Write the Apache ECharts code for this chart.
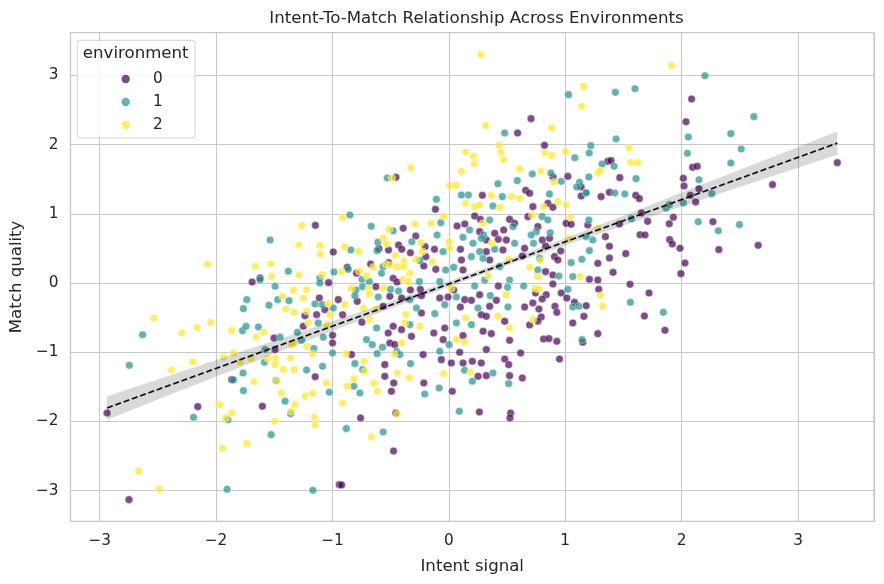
<!DOCTYPE html>
<html>
<head>
<meta charset="utf-8">
<script src="https://cdn.jsdelivr.net/npm/echarts@6.0.0/dist/echarts.min.js"></script>
<style>
html,body{margin:0;padding:0;background:#fff;}
#chart{width:884px;height:584px;}
</style>
</head>
<body>
<div id="chart"></div>
<script>
// ---------- data ----------
const categories = ['0', '1', '2'];
const colors = ['#440154', '#21918c', '#fde725'];

const env0 = [
[-1.147,0.833],[-0.993,0.448],[-1.622,0.072],
[-1.690,0.014],[-1.033,0.005],[-1.113,-0.217],[-0.950,-0.241],[-1.236,-0.472],[-1.136,-0.458],[-1.065,-0.385],[-1.502,-0.795],[-1.25,-0.626],[-0.999,-0.756],[-0.999,-0.867],[-1.493,-0.963],[-1.865,-1.397],[-1.148,-1.354],[-2.937,-1.879],[-2.157,-1.787],[-1.602,-1.782],[-2.748,-3.131],[-0.941,-2.914],
[0.706,2.375],[0.591,2.168],[0.822,1.989],[-0.455,1.527],[0.895,1.532],[1.023,1.541],[1.366,1.758],[0.660,1.339],[1.137,1.387],
[2.086,2.659],[2.038,2.331],[1.394,1.768],[2.094,1.671],[2.134,1.686],[3.338,1.739],[1.469,1.522],[2.015,1.513],[2.021,1.402],[2.149,1.363],[2.781,1.421],[1.606,1.267],[1.637,1.219],[1.380,1.310],[2.075,1.267],[2.121,1.171],[1.655,1.012],[1.466,0.853],[1.708,0.891],[1.929,0.949],[1.894,0.857],[2.269,0.886],[1.643,0.698],[1.686,0.694],[1.897,0.626],[1.920,0.564],[1.986,0.501],[2.320,0.482],[2.658,0.544],[1.380,0.530],[1.380,0.361],[1.520,0.424],[2.029,0.289],[1.994,0.135],[1.411,0.154],
[1.557,-0.019],[1.720,-0.145],[1.680,-0.477],[1.857,-0.684],
[-0.758,-1.951],[-0.455,-1.879],[-0.475,-2.428],[-0.921,-2.919],[0.262,-1.864],[0.531,-1.879],[0.525,-1.951],
[-0.392,0.790],[-0.284,0.679],[-0.601,0.496],[-0.518,0.477],[-0.432,0.549],[-0.404,0.487],[-0.330,0.438],[-0.204,0.525],[-0.198,0.381],[-0.215,0.246],[-0.672,0.275],[-0.873,0.226],[-0.518,0.294],[-0.793,0.140],[-0.478,0.067],[-0.444,0.014],[-0.626,-0.053],[-0.330,-0.101],[-0.245,-0.092],
[0.288,1.267],[-0.115,1.065],[0.222,0.968],[0.271,0.920],[0.522,0.920],[0.565,0.862],[0.071,0.824],[0.137,0.853],[0.265,0.742],[0.394,0.718],[0.471,0.766],[0.322,0.621],[0.425,0.631],[0.494,0.621],[-0.124,0.487],[0.100,0.487],[0.322,0.453],[0.465,0.477],[0.108,0.332],[0.351,0.332],[-0.112,0.197],[0.122,0.188],[0.042,-0.101],[0.425,-0.043],
[0.694,1.296],[1.137,1.257],[1.308,1.248],[0.722,1.103],[0.851,1.151],[0.894,1.093],[0.680,0.959],[1.008,0.862],[1.051,0.848],[1.194,0.838],[0.765,0.814],[0.803,0.621],[0.866,0.645],[1.345,0.670],[0.651,0.501],[0.831,0.535],[0.962,0.462],[0.631,0.390],[0.908,0.381],[0.937,0.332],[1.280,0.284],[0.831,0.164],[0.894,0.116],[1.208,0.053],[1.280,0.043],[0.894,-0.014],[1.288,-0.092],
[-0.787,-0.265],[-0.913,-0.458],[-0.507,-0.193],[-0.406,-0.217],[-0.235,-0.183],[-0.564,-0.337],[-0.747,-0.568],[-0.478,-0.626],[-0.235,-0.433],[-0.406,-0.674],[-0.321,-0.771],[-0.521,-0.723],[-0.507,-0.867],[-0.464,-0.891],[-0.836,-1.035],[-0.221,-1.035],[-0.550,-1.180],[-0.550,-1.349],[-0.473,-1.445],[-0.215,-1.445],[-0.493,-1.565],
[-0.078,-0.217],[-0.007,-0.202],[0.137,-0.241],[0.194,-0.251],[0.265,-0.169],[0.408,-0.251],[0.099,-0.347],[0.351,-0.337],[0.279,-0.458],[0.322,-0.482],[0.480,-0.554],[-0.035,-0.650],[0.294,-0.698],[0.365,-0.732],[0.122,-0.761],[-0.129,-0.723],[-0.049,-0.819],[0.522,-0.828],[0.093,-1.002],[0.322,-0.963],[-0.064,-1.108],[0.022,-1.156],[0.122,-1.156],[0.202,-1.132],[0.279,-1.156],[0.480,-1.098],[0.514,-1.180],[0.251,-1.349],[0.322,-1.339],[0.522,-1.339],[0.030,-1.565],
[0.745,-0.145],[0.837,-0.169],[0.966,-0.145],[0.802,-0.231],[0.722,-0.289],[0.651,-0.347],[0.774,-0.376],[0.912,-0.337],[0.928,-0.424],[1.014,-0.217],[1.080,-0.279],[1.180,-0.328],[1.160,-0.482],[1.065,-0.578],[0.794,-0.491],[0.765,-0.554],[0.694,-0.607],[1.280,-0.732],[0.814,-0.809],[0.860,-0.804],[0.928,-0.843],[1.151,-0.857],[0.617,-1.012],[0.951,-1.098],[0.631,-1.373]
];

const env1 = [
[-1.536,0.621],[-1.379,0.169],[-0.987,0.159],[-1.108,0.072],
[-1.622,0.048],[-1.493,-0.048],[-1.108,0.000],[-1.736,-0.241],[-1.765,-0.371],[-1.545,-0.323],[-1.470,-0.241],[-1.373,-0.255],[-1.150,-0.303],[-1.088,-0.313],[-0.993,-0.361],[-2.631,-0.747],[-1.773,-0.689],[-1.742,-0.626],[-1.636,-0.636],[-1.450,-0.780],[-1.301,-0.713],[-1.265,-0.829],[-1.122,-0.578],[-1.079,-0.785],[-1.160,-0.949],[-0.999,-1.012],[-1.579,-0.963],[-1.585,-1.146],[-2.745,-1.190],[-1.222,-1.257],[-1.085,-1.204],[-1.768,-1.301],[-1.485,-1.411],[-1.765,-1.556],[-1.027,-1.580],[-1.407,-1.710],[-2.193,-1.941],[-1.899,-1.975],[-1.359,-1.888],[-1.527,-2.192],[-1.905,-2.982],[-1.168,-2.996],[-1.850,-1.400],
[1.028,2.722],[0.480,2.168],[1.220,1.985],[1.206,1.879],[1.083,1.811],[-0.529,1.517],[0.717,1.575],[0.877,1.590],[0.966,1.469],[1.123,1.455],[1.203,1.532],[1.317,1.720],[0.422,1.435],[0.588,1.479],[1.180,1.301],[1.099,1.387],
[2.200,2.996],[1.431,2.755],[1.600,2.808],[2.621,2.404],[2.423,2.158],[2.058,2.110],[1.437,2.081],[2.512,1.936],[2.050,1.874],[1.420,1.686],[2.423,1.734],[1.609,1.508],[2.149,1.493],[1.426,1.301],[1.512,1.286],[2.260,1.291],[2.015,1.156],[1.866,1.084],[1.894,1.132],[1.569,0.930],[2.143,0.886],[2.497,0.843],[2.315,0.756],
[1.560,-0.279],[1.843,-0.424],
[-0.881,-2.105],[-0.564,-2.153],[0.090,-1.855],
[-0.850,0.983],[-0.667,0.819],[-0.478,0.756],[-0.318,0.597],[-0.610,0.588],[-0.616,0.467],[-0.842,0.477],[-0.249,0.323],[-0.864,0.197],[-0.564,0.236],[-0.578,0.140],[-0.747,0.053],[-0.253,0.019],[-0.684,0.019],[-0.741,-0.053],[-0.798,-0.101],[-0.501,-0.092],[-0.432,-0.116],
[-0.107,1.209],[0.108,1.272],[0.168,1.272],[0.460,1.248],[-0.069,0.872],[0.379,1.113],[0.351,0.910],[0.551,0.814],[0.179,0.766],[0.299,0.694],[0.279,0.645],[-0.101,0.694],[0.122,0.660],[0.565,0.573],[-0.049,0.453],[0.208,0.573],[0.265,0.453],[0.394,0.487],[0.194,0.381],[0.294,0.356],[0.042,0.226],[-0.027,0.188],[0.437,0.236],[0.308,0.043],[0.522,0.043],[-0.078,0.019],[0.222,-0.043],[0.505,-0.063],
[0.865,1.286],[1.180,1.305],[0.803,0.959],[0.851,0.910],[1.203,0.910],[0.751,0.742],[0.871,0.727],[0.708,0.694],[0.728,0.573],[1.180,0.670],[1.237,0.621],[1.208,0.467],[1.143,0.342],[1.051,0.294],[0.780,0.356],[0.765,0.188],[0.945,0.101],[1.065,0.092],[0.643,-0.043],[1.023,-0.092],
[-0.807,-0.183],[-0.607,-0.202],[-0.335,-0.241],[-0.621,-0.650],[-0.335,-0.602],[-0.278,-0.361],[-0.707,-0.819],[-0.658,-0.891],[-0.570,-0.930],[-0.616,-1.021],[-0.807,-1.166],[-0.449,-0.987],[-0.421,-1.035],[-0.329,-1.166],[-0.741,-1.252],[-0.816,-1.493],[-0.764,-1.590],[-0.207,-1.604],
[-0.035,-0.313],[0.065,-0.202],[0.356,-0.183],[0.251,-0.361],[0.508,-0.347],[0.065,-0.578],[-0.121,-0.443],[0.194,-0.602],[0.002,-0.891],[-0.078,-0.987],[0.136,-1.262],[0.379,-1.301],[0.202,-1.421],[0.514,-1.455],[-0.083,-1.517],
[1.065,-0.347],[1.117,-0.337],[1.145,-0.819]
];

const env2 = [
[-1.264,0.829],[-1.288,0.549],[-1.108,0.540],[-1.102,0.419],[-2.073,0.270],[-1.664,0.241],[-1.530,0.279],[-1.288,0.116],[-1.522,0.096],[-1.087,0.120],
[-1.430,-0.193],[-1.336,-0.106],[-1.222,-0.096],[-1.250,-0.217],[-1.037,-0.299],[-1.401,-0.376],[-1.329,-0.424],[-1.222,-0.409],[-1.022,-0.458],[-2.533,-0.506],[-2.296,-0.723],[-2.162,-0.645],[-2.045,-0.568],[-1.865,-0.689],[-1.593,-0.708],[-1.654,-0.780],[-1.336,-0.867],[-1.207,-0.578],[-1.050,-0.602],[-1.222,-0.915],[-1.350,-0.891],[-1.170,-1.026],[-1.556,-1.093],[-1.487,-1.084],[-1.493,-1.180],[-1.359,-1.084],[-1.936,-1.069],[-1.850,-1.012],[-1.793,-1.142],[-1.699,-1.093],[-2.199,-1.142],[-2.385,-1.257],[-1.422,-1.252],[-1.328,-1.252],[-1.674,-1.426],[-1.050,-1.445],[-1.441,-1.590],[-1.236,-1.638],[-1.170,-1.594],[-1.322,-1.758],[-1.973,-1.758],[-1.917,-1.951],[-1.865,-1.879],[-1.356,-1.855],[-1.155,-1.941],[-1.150,-2.052],[-1.496,-1.999],[-1.736,-2.322],[-1.945,-2.389],[-2.665,-2.722],[-2.491,-2.977],[-1.480,-1.420],
[0.276,3.300],[1.157,2.842],[1.142,2.553],[0.316,2.274],[0.885,2.240],[0.431,1.989],[0.145,1.893],[0.211,1.830],[0.448,1.888],[0.471,1.782],[0.220,1.724],[0.825,1.879],[0.885,1.840],[1.002,1.898],[-0.327,1.662],[-0.489,1.517],[0.108,1.614],[0.608,1.652],[0.789,1.614],[1.280,1.590],[1.300,1.623],[0.008,1.407],[0.065,1.411],[0.903,1.460],
[1.912,3.141],[1.546,1.951],[1.563,1.739],[1.623,1.739],
[-0.913,-1.734],[-0.444,-1.893],[-0.664,-2.225],
[-0.913,0.944],[-0.564,0.645],[-0.514,0.776],[-0.289,0.848],[-0.241,0.583],[-0.535,0.564],[-0.227,0.453],[-0.896,0.525],[-0.775,0.453],[-0.461,0.400],[-0.386,0.323],[-0.284,0.342],[-0.649,0.226],[-0.922,0.164],[-0.541,0.275],[-0.444,0.236],[-0.389,0.236],[-0.336,0.140],[-0.770,0.169],[-0.707,0.101],[-0.392,0.053],[-0.349,0.019],[-0.836,-0.077],[-0.690,-0.077],[-0.564,-0.077],[-0.507,0.255],
[0.365,1.267],[0.537,1.248],[-0.044,0.959],[-0.152,0.862],[0.145,1.151],[0.222,1.103],[0.265,1.127],[0.437,1.093],[0.294,0.862],[0.369,0.573],[0.002,0.597],[0.008,0.501],[-0.141,0.308],[0.514,0.342],[0.337,0.101],[0.022,-0.077],
[0.608,1.224],[0.814,1.103],[0.937,1.175],[1.008,1.127],[0.717,0.983],[1.043,0.949],[1.280,0.790],[1.031,0.645],[0.785,0.323],[0.694,0.226],[0.765,0.092],[1.128,0.092],[0.737,-0.077],[0.775,-0.092],
[-0.893,-0.313],[-0.735,-0.361],[-0.684,-0.159],[-0.621,-0.376],[-0.679,-0.530],[-0.378,-0.578],[-0.250,-0.626],[-0.369,-0.457],[-0.406,-0.867],[-0.884,-1.021],[-0.728,-1.132],[-0.469,-1.026],[-0.721,-1.276],[-0.444,-1.301],[-0.341,-1.373],[-0.816,-1.387],[-0.644,-1.445],[-0.873,-1.493],[-0.615,-1.565],
[0.494,-0.169],[0.145,-0.506],[0.422,-0.482],[0.522,-0.650],[0.065,-0.819],[0.136,-0.857],[0.185,-1.291],[-0.044,-1.310],
[1.302,-0.183],[1.323,-0.337],[0.722,-0.530]
];

// regression line end points and confidence band
const lineX = [-2.937, 3.338];
const lineY = [-1.806, 2.022];
const bandX  = [-2.937, -2.5, -2, -1.5, -1, -0.5, 0, 0.5, 1, 1.5, 2, 2.5, 3, 3.338];
const bandLo = [-1.976, -1.684, -1.354, -1.024, -0.694, -0.369, -0.054, 0.251, 0.546, 0.831, 1.106, 1.386, 1.666, 1.852];
const bandHi = [-1.636, -1.394, -1.114, -0.834, -0.554, -0.269, 0.026, 0.331, 0.646, 0.971, 1.306, 1.636, 1.966, 2.192];

const tickFont = 'DejaVu Sans';
const textColor = '#262626';
const minusFmt = v => (v < 0 ? '\u2212' + Math.abs(v) : String(v));

const chart = echarts.init(document.getElementById('chart'), null, {renderer: 'canvas'});

const seriesData = [env0, env1, env2];
const scatterSeries = categories.map((c, i) => ({
  name: c,
  type: 'scatter',
  data: seriesData[i],
  symbol: 'circle',
  symbolSize: 7.6,
  z: 2,
  itemStyle: {color: colors[i], opacity: 0.7, borderColor: '#ffffff', borderWidth: 0.5},
  emphasis: {disabled: true}
}));

const bandSeries = {
  type: 'custom',
  name: 'ci',
  z: 5,
  silent: true,
  data: [[bandX[0], bandLo[0]]],
  renderItem: function (params, api) {
    const pts = [];
    for (let i = 0; i < bandX.length; i++) pts.push(api.coord([bandX[i], bandHi[i]]));
    for (let i = bandX.length - 1; i >= 0; i--) pts.push(api.coord([bandX[i], bandLo[i]]));
    return {type: 'polygon', shape: {points: pts}, style: {fill: 'rgba(0,0,0,0.15)', stroke: null}};
  }
};

const lineSeries = {
  type: 'line',
  name: 'fit',
  z: 6,
  silent: true,
  data: lineX.map((x, i) => [x, lineY[i]]),
  showSymbol: false,
  symbol: 'none',
  lineStyle: {color: '#111111', width: 1.7, type: [6, 2.8]}
};

const option = {
  animation: false,
  backgroundColor: '#ffffff',
  title: {
    text: 'Intent-To-Match Relationship Across Environments',
    left: 471.5, top: 5, textAlign: 'center',
    textStyle: {fontFamily: tickFont, fontSize: 16.6, fontWeight: 'normal', color: textColor}
  },
  grid: {left: 69, right: 10, top: 32.5, bottom: 62.7, show: true, borderColor: '#cccccc', borderWidth: 1.25, backgroundColor: '#ffffff'},
  xAxis: {
    type: 'value', min: -3.251, max: 3.653, minInterval: 1, maxInterval: 1,
    name: 'Intent signal', nameLocation: 'middle', nameGap: 37,
    nameTextStyle: {fontFamily: tickFont, fontSize: 16.6, color: textColor},
    axisLine: {show: false}, axisTick: {show: false},
    axisLabel: {formatter: minusFmt, fontFamily: tickFont, fontSize: 15.3, color: textColor, margin: 12, showMinLabel: false, showMaxLabel: false},
    splitLine: {show: true, lineStyle: {color: '#c8c8c8', width: 1.1}}
  },
  yAxis: {
    type: 'value', min: -3.444, max: 3.62, minInterval: 1, maxInterval: 1,
    name: 'Match quality', nameLocation: 'middle', nameGap: 42, nameRotate: 90,
    nameTextStyle: {fontFamily: tickFont, fontSize: 16.6, color: textColor},
    axisLine: {show: false}, axisTick: {show: false},
    axisLabel: {formatter: minusFmt, fontFamily: tickFont, fontSize: 15.3, color: textColor, margin: 12, showMinLabel: false, showMaxLabel: false},
    splitLine: {show: true, lineStyle: {color: '#c8c8c8', width: 1.1}}
  },
  legend: {
    data: categories,
    orient: 'vertical',
    left: 121.5, top: 71,
    padding: 0,
    itemWidth: 8.4, itemHeight: 8.4, itemGap: 7,
    icon: 'circle',
    selectedMode: false,
    z: 20,
    itemStyle: {opacity: 0.7, borderWidth: 0},
    textStyle: {fontFamily: tickFont, fontSize: 15.3, color: textColor, lineHeight: 16, padding: [0, 0, 0, 18]}
  },
  graphic: [
    {type: 'rect', z: 15, shape: {x: 77.3, y: 40.3, width: 117.7, height: 97.7, r: 3},
     style: {fill: 'rgba(255,255,255,0.8)', stroke: '#d5d5d5', lineWidth: 1}},
    {type: 'text', z: 21, x: 135.7, y: 53.7,
     style: {text: 'environment', fontFamily: tickFont, fontSize: 16.6, fill: textColor, align: 'center', verticalAlign: 'middle'}}
  ],
  series: scatterSeries.concat([bandSeries, lineSeries])
};

chart.setOption(option);
</script>
</body>
</html>
